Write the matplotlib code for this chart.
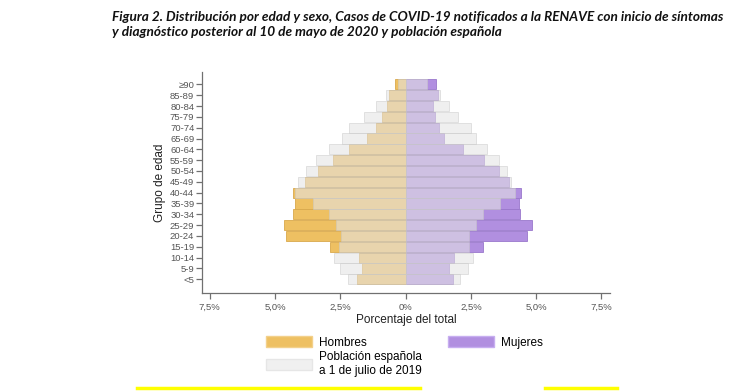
import numpy as np
import matplotlib
matplotlib.use("Agg")
import matplotlib.pyplot as plt
from matplotlib.patches import Patch
from matplotlib.lines import Line2D
from matplotlib.ticker import FuncFormatter

# age groups, bottom to top
grupos = ['<5', '5-9', '10-14', '15-19', '20-24', '25-29', '30-34', '35-39',
          '40-44', '45-49', '50-54', '55-59', '60-64', '65-69', '70-74',
          '75-79', '80-84', '85-89', '\u226590']

# % of total, cases (RENAVE)
casos_h = [1.88, 1.66, 1.79, 2.89, 4.59, 4.65, 4.31, 4.22, 4.33, 3.87,
           3.35, 2.79, 2.17, 1.49, 1.14, 0.91, 0.72, 0.62, 0.39]
casos_m = [1.83, 1.68, 1.87, 2.95, 4.66, 4.84, 4.37, 4.34, 4.41, 3.95,
           3.58, 2.99, 2.21, 1.47, 1.26, 1.13, 1.06, 1.23, 1.16]

# % of total, Spanish population 1 July 2019
pob_h = [2.19, 2.53, 2.74, 2.56, 2.49, 2.67, 2.92, 3.55, 4.22, 4.11,
         3.83, 3.45, 2.92, 2.42, 2.15, 1.58, 1.12, 0.75, 0.31]
pob_m = [2.10, 2.40, 2.59, 2.43, 2.43, 2.69, 2.98, 3.62, 4.19, 4.04,
         3.90, 3.58, 3.13, 2.70, 2.51, 2.00, 1.68, 1.33, 0.83]

col_h = '#eec062'
col_m = '#b18fe0'
col_p = '#e4e4e4'

plt.rcParams['font.family'] = ['Liberation Sans', 'DejaVu Sans']

fig = plt.figure(figsize=(7.52, 3.91), dpi=100)
ax = fig.add_axes([0.2686, 0.2506, 0.5426, 0.5652])

y = np.arange(len(grupos))
h = 0.94
ax.barh(y, -np.array(casos_h), height=h, color=col_h, edgecolor='#d9a94c', linewidth=0.6)
ax.barh(y, casos_m, height=h, color=col_m, edgecolor='#9a78cc', linewidth=0.6)
ax.barh(y, -np.array(pob_h), height=h, color=col_p, alpha=0.58, edgecolor='#c8c8c8', linewidth=0.6)
ax.barh(y, pob_m, height=h, color=col_p, alpha=0.58, edgecolor='#c8c8c8', linewidth=0.6)

ax.set_xlim(-7.8, 7.83)
ax.set_ylim(-1.27, 19.14)
ax.set_yticks(y)
ax.set_yticklabels(grupos)
ticks = [-7.5, -5, -2.5, 0, 2.5, 5, 7.5]
ax.set_xticks(ticks)
ax.xaxis.set_major_formatter(FuncFormatter(
    lambda v, p: '0%' if v == 0 else ('%.1f%%' % abs(v)).replace('.', ',')))

for s in ['top', 'right']:
    ax.spines[s].set_visible(False)
for s in ['left', 'bottom']:
    ax.spines[s].set_color('#707070')
    ax.spines[s].set_linewidth(0.9)
ax.tick_params(axis='both', colors='#707070', labelcolor='#555555', labelsize=6.8,
               length=4, width=0.9, pad=1.5)
ax.tick_params(axis='x', pad=3)

ax.set_xlabel('Porcentaje del total', fontsize=8.5, color='#222222', labelpad=1.5)
ax.set_ylabel('Grupo de edad', fontsize=8.5, color='#222222', labelpad=3)

handles = [Patch(facecolor=col_h, edgecolor='#f3d08a', label='Hombres'),
           Patch(facecolor='#f0f0f0', edgecolor='#e6e6e6', label='Población española\na 1 de julio de 2019'),
           Patch(facecolor=col_m, edgecolor='#c7aef0', label='Mujeres')]
fig.legend(handles=handles, ncol=2, loc='upper left', bbox_to_anchor=(0.354, 0.140),
           frameon=False, fontsize=8.5, handlelength=3.9, handleheight=1.05,
           handletextpad=0.6, columnspacing=2.15, labelspacing=0.2,
           borderaxespad=0, borderpad=0)

fig.text(0.149, 0.972, 'Figura 2. Distribución por edad y sexo, Casos de COVID-19 notificados a la RENAVE con inicio de síntomas\n'
         'y diagnóstico posterior al 10 de mayo de 2020 y población española',
         fontsize=9.85, fontweight='bold', fontstyle='italic', family=['Lato', 'DejaVu Sans'],
         va='top', ha='left', linespacing=1.3, color='#111111')

# yellow highlight marks at the bottom
fig.add_artist(Line2D([137 / 752, 420 / 752], [0.008, 0.008], color='#ffff00', lw=2.5))
fig.add_artist(Line2D([545 / 752, 617 / 752], [0.008, 0.008], color='#ffff00', lw=2.5))

fig.savefig('out.png', dpi=100)
